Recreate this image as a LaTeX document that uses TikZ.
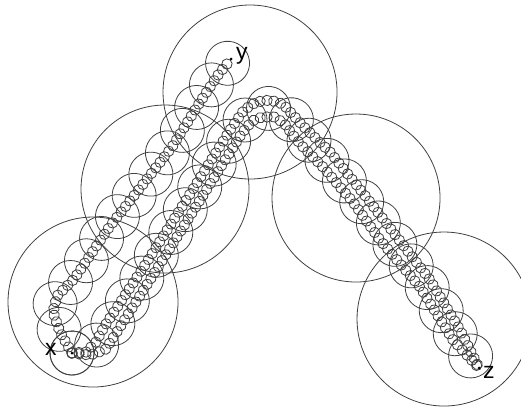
\documentclass[tikz,border=0pt]{standalone}
\usepackage{fontspec}
\setmainfont{Liberation Sans}
\usetikzlibrary{decorations.markings}
\tikzset{
  ln/.style={draw=black!75, line width=0.08pt},
  smallchain/.style={postaction={decorate, decoration={markings, mark=between positions 0 and 1 step 0.7pt with {\draw[ln] (0,0) circle (0.52pt);}}}},
  medchain/.style={postaction={decorate, decoration={markings, mark=between positions 0 and 1 step 2.7pt with {\draw[ln] (0,0) circle (2.2pt);}}}},
  lbl/.style={font=\fontsize{23}{25}\selectfont, inner sep=0pt, anchor=base west},
}
\begin{document}
\begin{tikzpicture}[x=1pt,y=-1pt]
\useasboundingbox (0,0) rectangle (521,409);
\begin{scope}[transform canvas={scale=10}, x=0.1pt, y=-0.1pt]
% points
\coordinate (x) at (72,353);
\coordinate (y) at (231,59);
\coordinate (z) at (479,368);
% large circles
\draw[ln] (93,302) circle (8.5pt);
\draw[ln] (165,189) circle (8.4pt);
\draw[ln] (250,92) circle (8.7pt);
\draw[ln] (356,198) circle (8.4pt);
\draw[ln] (444,319) circle (8.7pt);
% medium circles
\path[medchain] (x) -- (60,332) -- (53,312) -- (57,296) -- (74,279) -- (110,226) -- (140,188) -- (172,147) -- (200,102) -- (218,75) -- (y);
\path[medchain] (x) -- (92,350) -- (105,336) -- (180,218) -- (237,128) -- (252,113) -- (270,108) -- (286,113) -- (298,128) -- (325,158) -- (358,197) -- (387,234) -- (425,284) -- (456,335) -- (z);
% small circle chains
\path[smallchain] (x) -- (60,332) -- (53,312) -- (57,296) -- (74,279) -- (110,226) -- (140,188) -- (172,147) -- (200,102) -- (218,75) -- (y);
\path[smallchain] (x) -- (86,352) -- (96,342) -- (104,327) -- (143,268) -- (190,194) -- (232,127) -- (244,110) -- (256,102) -- (270,100) -- (283,104) -- (292,114) -- (305,128) -- (330,152) -- (363,193) -- (390,228) -- (430,280) -- (460,330) -- (z);
\path[smallchain] (x) -- (90,355) -- (105,350) -- (113,338) -- (160,264) -- (205,192) -- (242,133) -- (252,121) -- (262,117) -- (274,117) -- (284,123) -- (292,134) -- (302,146) -- (322,166) -- (353,202) -- (380,240) -- (420,287) -- (453,340) -- (z);
% dots
\fill[black] (x) circle (0.15pt);
\fill[black] (y) circle (0.15pt);
\fill[black] (z) circle (0.15pt);
\end{scope}
% labels
\node[lbl] (xl) at (45,355) {x};
\node[lbl] (yl) at (236,60) {y};
\node[lbl] (zl) at (483,378) {z};
\end{tikzpicture}
\end{document}
